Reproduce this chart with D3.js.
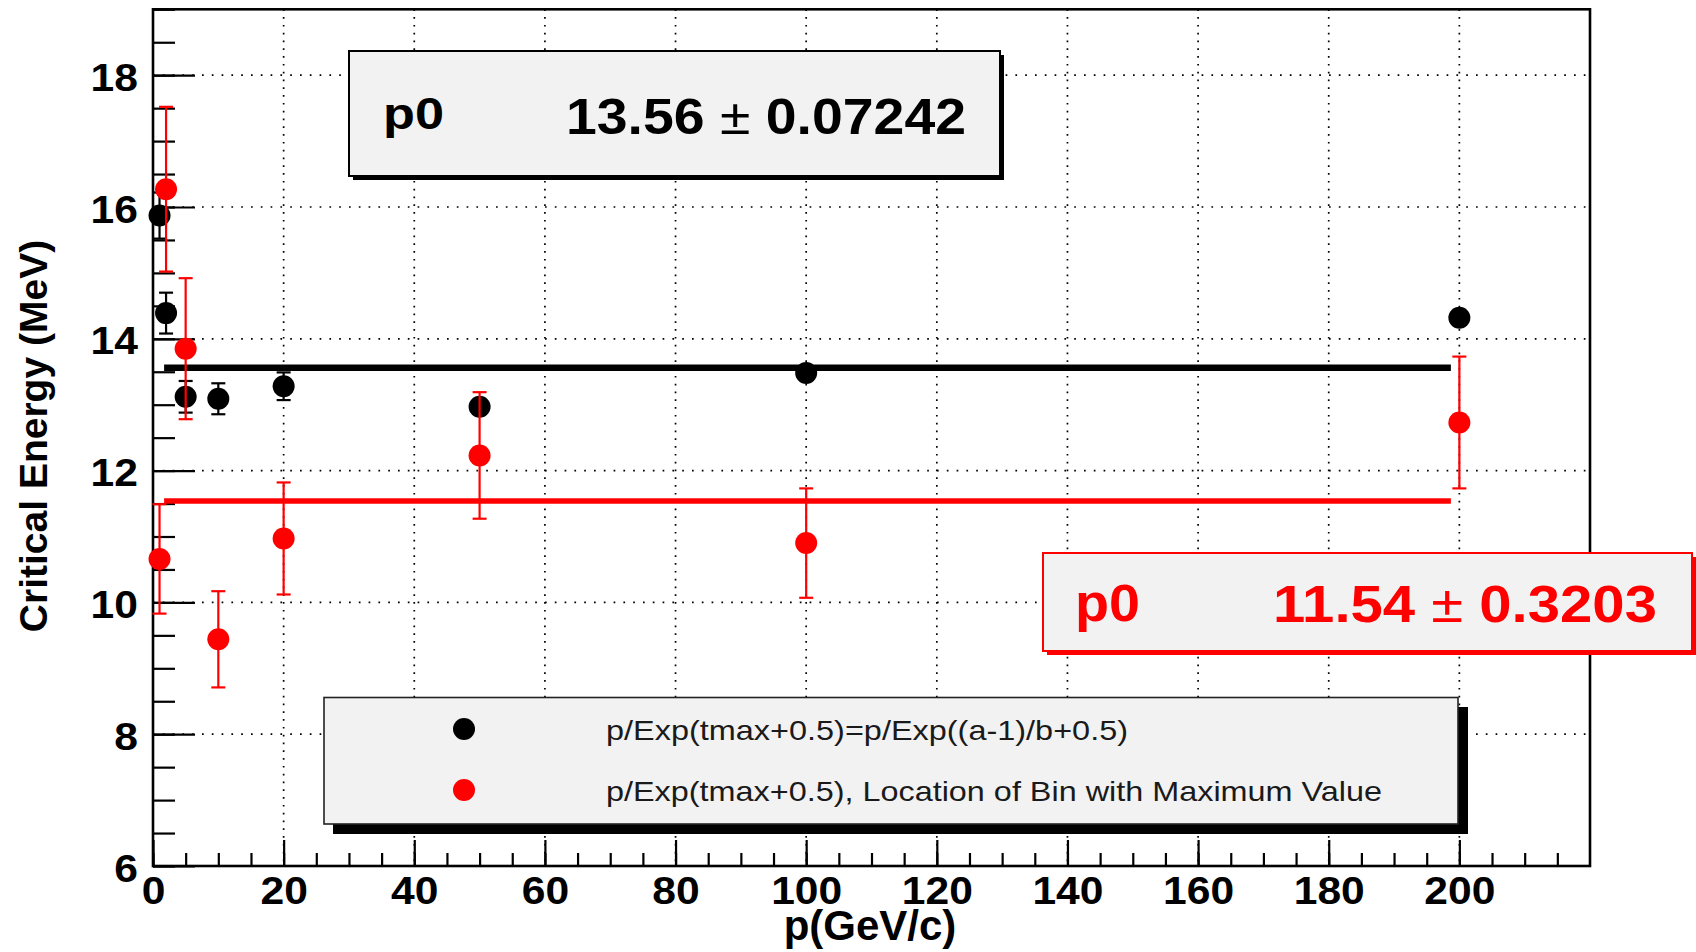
<!DOCTYPE html>
<html>
<head>
<meta charset="utf-8">
<script src="https://cdn.jsdelivr.net/npm/d3@7"></script>
<style>
  html, body { margin: 0; padding: 0; background: #ffffff; }
  svg { display: block; font-family: "Liberation Sans", Arial, Helvetica, sans-serif; }
</style>
</head>
<body>
<svg id="chart" width="1696" height="952"></svg>
<script>
// Momentum points (GeV/c)
const momenta = [1, 2, 5, 10, 20, 50, 100, 200];
// Critical energy from p/Exp((a-1)/b+0.5), with errors (MeV)
const energyFromFit = [15.87, 14.39, 13.12, 13.09, 13.28, 12.97, 13.48, 14.32];
const energyFromFitErr = [0.35, 0.31, 0.24, 0.235, 0.21, 0.10, 0.10, 0.08];
// Critical energy from the location of the maximum bin, with errors (MeV)
const energyFromBin = [10.66, 16.27, 13.85, 9.44, 10.97, 12.23, 10.90, 12.73];
const energyFromBinErr = [0.83, 1.25, 1.07, 0.73, 0.85, 0.96, 0.83, 1.00];
// Constant (pol0) fit results for the two series
const fitP0 = [13.56, 11.54];
const fitP0ErrText = ["0.07242", "0.3203"];
const fitRange = [1.7, 198.7];
// Axis ticks
const xMajorTicks = [0, 20, 40, 60, 80, 100, 120, 140, 160, 180, 200];
const xMinorTicks = d3.range(0, 220, 5);
const yMajorTicks = [6, 8, 10, 12, 14, 16, 18];
const yMinorTicks = d3.range(6, 19.01, 0.5);
const seriesLabels = [
  "p/Exp(tmax+0.5)=p/Exp((a-1)/b+0.5)",
  "p/Exp(tmax+0.5), Location of Bin with Maximum Value"
];
const seriesColors = ["#000000", "#ff0000"];
const xTitle = "p(GeV/c)";
const yTitle = "Critical Energy (MeV)";

(function draw() {
  const svg = d3.select("#chart");
  const pl = 153, pr = 1590, pt = 9.3, pb = 866;
  const x = d3.scaleLinear().domain([0, 220]).range([pl, pr]);
  const y = d3.scaleLinear().domain([6, 19]).range([pb, pt]);

  // stretch text horizontally by a factor, or to a fixed width
  function stretchBy(sel, k) {
    sel.each(function () {
      const w = this.getComputedTextLength();
      this.setAttribute("textLength", (w * k).toFixed(1));
      this.setAttribute("lengthAdjust", "spacingAndGlyphs");
    });
  }
  function fitWidth(sel, w) {
    sel.attr("textLength", w).attr("lengthAdjust", "spacingAndGlyphs");
  }

  // dotted grid
  const grid = svg.append("g").attr("stroke", "#000").attr("stroke-width", 1.7);
  grid.selectAll("line.gx").data(xMajorTicks.filter(d => d > 0))
    .join("line").attr("class", "gx")
    .attr("x1", d => x(d)).attr("x2", d => x(d))
    .attr("y1", pt).attr("y2", pb)
    .attr("stroke-dasharray", "1.7 6.1");
  grid.selectAll("line.gy").data(yMajorTicks.filter(d => d > 6))
    .join("line").attr("class", "gy")
    .attr("x1", pl).attr("x2", pr)
    .attr("y1", d => y(d)).attr("y2", d => y(d))
    .attr("stroke-dasharray", "1.7 8.1");

  // axes: minor + major ticks drawn inward
  const axX = svg.append("g").attr("transform", `translate(0,${pb})`);
  axX.append("g").call(d3.axisBottom(x).tickValues(xMinorTicks).tickSize(-13).tickFormat(""));
  axX.append("g").call(d3.axisBottom(x).tickValues(xMajorTicks).tickSize(-26).tickFormat(d3.format("d")));
  axX.selectAll(".domain").remove();
  axX.selectAll(".tick line").attr("stroke", "#000").attr("stroke-width", 2.2);
  axX.selectAll(".tick text")
    .attr("y", 38).attr("dy", null)
    .attr("font-size", 38).attr("font-weight", "bold").attr("fill", "#000")
    .attr("font-family", "Liberation Sans, Arial, sans-serif")
    .call(stretchBy, 1.12);

  const axY = svg.append("g").attr("transform", `translate(${pl},0)`);
  axY.append("g").call(d3.axisLeft(y).tickValues(yMinorTicks).tickSize(-22).tickFormat(""));
  axY.append("g").call(d3.axisLeft(y).tickValues(yMajorTicks).tickSize(-42).tickFormat(d3.format("d")));
  axY.selectAll(".domain").remove();
  axY.selectAll(".tick line").attr("stroke", "#000").attr("stroke-width", 2.2);
  axY.selectAll(".tick text")
    .attr("x", -15).attr("dy", null).attr("y", 15)
    .attr("font-size", 38).attr("font-weight", "bold").attr("fill", "#000")
    .attr("font-family", "Liberation Sans, Arial, sans-serif")
    .call(stretchBy, 1.12);

  // frame
  svg.append("rect")
    .attr("x", pl).attr("y", pt)
    .attr("width", pr - pl).attr("height", pb - pt)
    .attr("fill", "none").attr("stroke", "#000").attr("stroke-width", 2.6);

  // axis titles
  svg.append("text")
    .attr("x", 870).attr("y", 940)
    .attr("text-anchor", "middle")
    .attr("font-size", 42).attr("font-weight", "bold")
    .text(xTitle);
  svg.append("text")
    .attr("transform", "translate(47,436) rotate(-90)")
    .attr("text-anchor", "middle")
    .attr("font-size", 39).attr("font-weight", "bold")
    .text(yTitle);

  // data series with error bars and constant fits
  const series = [
    { v: energyFromFit, e: energyFromFitErr, color: seriesColors[0], p0: fitP0[0], lw: 6.5 },
    { v: energyFromBin, e: energyFromBinErr, color: seriesColors[1], p0: fitP0[1], lw: 5.5 }
  ];
  series.forEach(s => {
    const pts = momenta.map((p, i) => ({ p, v: s.v[i], e: s.e[i] }));
    const g = svg.append("g");
    const eb = g.append("g").attr("stroke", s.color).attr("stroke-width", 2.2);
    eb.selectAll("line.v").data(pts).join("line").attr("class", "v")
      .attr("x1", d => x(d.p)).attr("x2", d => x(d.p))
      .attr("y1", d => y(d.v - d.e)).attr("y2", d => y(d.v + d.e));
    [["lo", -1], ["hi", 1]].forEach(([cls, sgn]) => {
      eb.selectAll(`line.${cls}`).data(pts).join("line").attr("class", cls)
        .attr("x1", d => x(d.p) - 7).attr("x2", d => x(d.p) + 7)
        .attr("y1", d => y(d.v + sgn * d.e)).attr("y2", d => y(d.v + sgn * d.e));
    });
    g.selectAll("circle").data(pts).join("circle")
      .attr("cx", d => x(d.p)).attr("cy", d => y(d.v)).attr("r", 11)
      .attr("fill", s.color);
    g.append("line")
      .attr("x1", x(fitRange[0])).attr("x2", x(fitRange[1]))
      .attr("y1", y(s.p0)).attr("y2", y(s.p0))
      .attr("stroke", s.color).attr("stroke-width", s.lw);
  });

  // fit parameter boxes
  function statBox(b, color, val, err) {
    const g = svg.append("g");
    g.append("rect").attr("x", b.x + 4).attr("y", b.y + 4)
      .attr("width", b.w).attr("height", b.h).attr("fill", color);
    g.append("rect").attr("x", b.x).attr("y", b.y).attr("width", b.w).attr("height", b.h)
      .attr("fill", "#f2f2f2").attr("stroke", color).attr("stroke-width", 2);
    g.append("text").attr("x", b.nx).attr("y", b.ny)
      .attr("font-size", b.nfs).attr("font-weight", "bold").attr("fill", color)
      .text("p0").call(fitWidth, b.nw);
    const t = g.append("text").attr("x", b.vx).attr("y", b.vy)
      .attr("font-size", b.vfs).attr("font-weight", "bold").attr("fill", color);
    t.append("tspan").text(d3.format(".2f")(val) + " ");
    t.append("tspan").attr("font-weight", "normal").text("\u00b1");
    t.append("tspan").text(" " + err);
    t.call(fitWidth, b.vw);
  }
  statBox({ x: 349, y: 51, w: 651, h: 125, nx: 383, ny: 129, nw: 61, nfs: 44, vx: 566, vy: 134, vw: 400, vfs: 50 },
    seriesColors[0], fitP0[0], fitP0ErrText[0]);
  statBox({ x: 1043, y: 553, w: 649, h: 98, nx: 1075, ny: 621, nw: 65, nfs: 51, vx: 1273, vy: 622, vw: 384, vfs: 51 },
    seriesColors[1], fitP0[1], fitP0ErrText[1]);

  // legend
  const lg = svg.append("g");
  lg.append("rect").attr("x", 333).attr("y", 707).attr("width", 1135).attr("height", 127).attr("fill", "#000");
  lg.append("rect").attr("x", 324).attr("y", 697.5).attr("width", 1134).attr("height", 126.5)
    .attr("fill", "#f2f2f2").attr("stroke", "#222").attr("stroke-width", 1.6);
  const legendRowsY = [729, 790];
  const legendW = [522, 776];
  seriesLabels.forEach((lab, i) => {
    lg.append("circle").attr("cx", 464).attr("cy", legendRowsY[i]).attr("r", 11).attr("fill", seriesColors[i]);
    lg.append("text").attr("x", 606).attr("y", legendRowsY[i] + 10.5)
      .attr("font-size", 28).attr("fill", "#1a1a1a")
      .text(lab).call(fitWidth, legendW[i]);
  });
})();
</script>
</body>
</html>
